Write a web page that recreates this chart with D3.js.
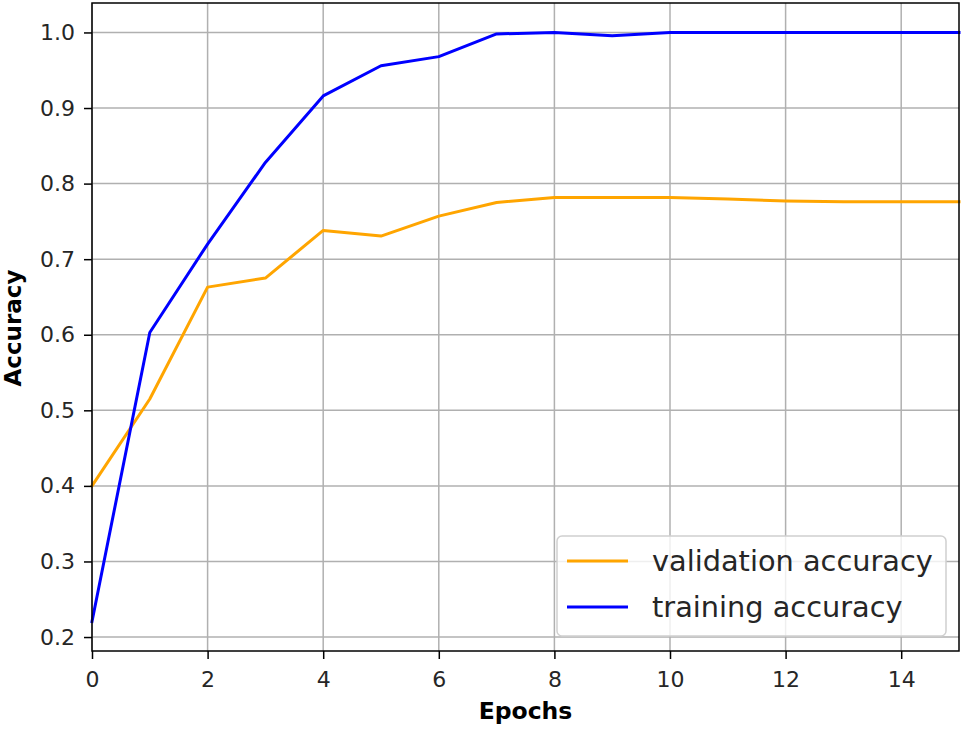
<!DOCTYPE html>
<html>
<head>
<meta charset="utf-8">
<script src="https://cdn.jsdelivr.net/npm/d3@7"></script>
<style>
  body { margin: 0; background: #fff; }
  svg { display: block; font-family: "DejaVu Sans", sans-serif; }
</style>
</head>
<body>
<svg id="chart" width="963" height="729"></svg>
<script>
// Accuracy per epoch
var epochs = [0, 1, 2, 3, 4, 5, 6, 7, 8, 9, 10, 11, 12, 13, 14, 15];
var trainAcc = [0.2205, 0.603, 0.720, 0.828, 0.916, 0.956, 0.968, 0.998, 1.0, 0.9955, 1.0, 1.0, 1.0, 1.0, 1.0, 1.0];
var valAcc = [0.400, 0.515, 0.663, 0.675, 0.738, 0.7306, 0.757, 0.775, 0.7815, 0.7815, 0.7815, 0.7795, 0.777, 0.776, 0.776, 0.776];
var xTicks = [0, 2, 4, 6, 8, 10, 12, 14];
var yTicks = [0.2, 0.3, 0.4, 0.5, 0.6, 0.7, 0.8, 0.9, 1.0];

var svg = d3.select("#chart"),
    margin = {top: 3, right: 4, bottom: 78, left: 92},
    width = +svg.attr("width") - margin.left - margin.right,
    height = +svg.attr("height") - margin.top - margin.bottom;

var g = svg.append("g").attr("transform", "translate(" + margin.left + "," + margin.top + ")");

var x = d3.scaleLinear().domain([0, 15]).range([0, width]);
// matplotlib style 5% padding round the data
var lo = d3.min(trainAcc.concat(valAcc)), hi = d3.max(trainAcc.concat(valAcc));
var pad = (hi - lo) * 0.05;
var y = d3.scaleLinear().domain([lo - pad, hi + pad]).range([height, 0]);

// grid
g.append("g").selectAll("line.vgrid")
    .data(xTicks)
    .enter().append("line")
      .attr("x1", function(d) { return x(d); })
      .attr("x2", function(d) { return x(d); })
      .attr("y1", 0).attr("y2", height)
      .attr("stroke", "#b0b0b0").attr("stroke-width", 1.5);
g.append("g").selectAll("line.hgrid")
    .data(yTicks)
    .enter().append("line")
      .attr("y1", function(d) { return y(d); })
      .attr("y2", function(d) { return y(d); })
      .attr("x1", 0).attr("x2", width)
      .attr("stroke", "#b0b0b0").attr("stroke-width", 1.5);

// lines
var line = d3.line()
    .x(function(d, i) { return x(epochs[i]); })
    .y(function(d) { return y(d); });

var series = [
    {name: "validation accuracy", values: valAcc, color: "orange"},
    {name: "training accuracy", values: trainAcc, color: "blue"}
];

g.selectAll("path.valueLine")
    .data(series)
    .enter().append("path")
      .attr("class", "valueLine")
      .attr("d", function(d) { return line(d.values); })
      .attr("fill", "none")
      .attr("stroke", function(d) { return d.color; })
      .attr("stroke-width", 3)
      .attr("stroke-linejoin", "round")
      .attr("stroke-linecap", "square");

// axes
var xAxis = g.append("g")
    .attr("transform", "translate(0," + height + ")")
    .call(d3.axisBottom(x).tickValues(xTicks).tickSize(8).tickPadding(12).tickFormat(d3.format("d")));
var yAxis = g.append("g")
    .call(d3.axisLeft(y).tickValues(yTicks).tickSize(8).tickPadding(9).tickFormat(d3.format(".1f")));

[xAxis, yAxis].forEach(function(a) {
    a.select(".domain").remove();
    a.selectAll(".tick line").attr("stroke", "#000").attr("stroke-width", 1.5);
    a.selectAll(".tick text").attr("fill", "#262626").style("font-size", "22px")
        .style("font-family", "DejaVu Sans, sans-serif");
});

// frame
g.append("rect")
    .attr("width", width).attr("height", height)
    .attr("fill", "none").attr("stroke", "#000").attr("stroke-width", 1.5);

// axis labels
svg.append("text")
    .attr("x", margin.left + width / 2)
    .attr("y", 719)
    .attr("text-anchor", "middle")
    .style("font-size", "23.5px").style("font-weight", "bold")
    .text("Epochs");
svg.append("text")
    .attr("transform", "translate(21," + (margin.top + height / 2 + 1) + ") rotate(-90)")
    .attr("text-anchor", "middle")
    .style("font-size", "23px").style("font-weight", "bold")
    .text("Accuracy");

// legend
var legend = svg.append("g").attr("transform", "translate(557,536)");
legend.append("rect")
    .attr("width", 389).attr("height", 100).attr("rx", 5)
    .attr("fill", "#fff").attr("fill-opacity", 0.8)
    .attr("stroke", "#d0d0d0").attr("stroke-width", 1.5);
var items = legend.selectAll("g.item")
    .data(series)
    .enter().append("g")
      .attr("transform", function(d, i) { return "translate(0," + (25 + i * 46) + ")"; });
items.append("line")
    .attr("x1", 10).attr("x2", 71)
    .attr("stroke", function(d) { return d.color; })
    .attr("stroke-width", 3);
items.append("text")
    .attr("x", 95).attr("dy", "0.35em")
    .attr("fill", "#262626")
    .style("font-size", "28.8px")
    .text(function(d) { return d.name; });
</script>
</body>
</html>
